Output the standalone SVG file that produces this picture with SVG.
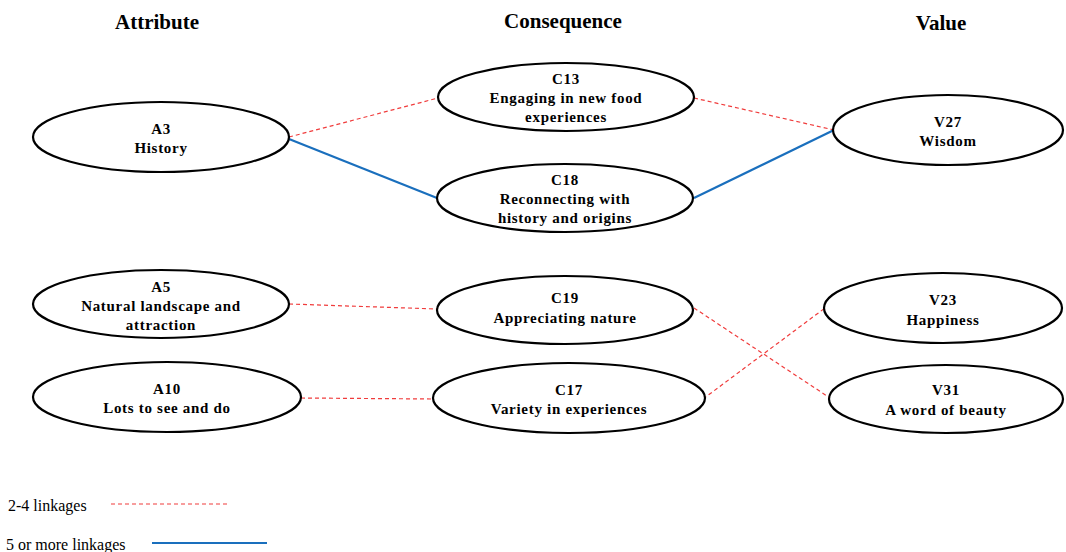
<svg xmlns="http://www.w3.org/2000/svg" width="1066" height="552" viewBox="0 0 1066 552">
  <style>
    .hdr { font-family: "Liberation Serif", "Times New Roman", serif; font-weight: bold; font-size: 21px; text-anchor: middle; fill: #000; }
    .node ellipse { fill: #fff; stroke: #000; stroke-width: 2.2; }
    .node text { font-family: "Liberation Serif", "Times New Roman", serif; font-weight: bold; font-size: 15px; letter-spacing: 0.7px; text-anchor: middle; fill: #000; }
    .weak { stroke: #f03c3c; stroke-width: 1.2; stroke-dasharray: 4 3; fill: none; }
    .strong { stroke: #1a6fbd; stroke-width: 2.2; fill: none; }
    .legend { font-family: "Liberation Serif", "Times New Roman", serif; font-size: 16px; fill: #000; }
  </style>
  <rect width="1066" height="552" fill="#fff"/>

  <!-- column headers -->
  <text class="hdr" x="157" y="29">Attribute</text>
  <text class="hdr" x="563" y="28">Consequence</text>
  <text class="hdr" x="941" y="30">Value</text>

  <!-- connectors -->
  <g id="connectors">
    <line class="weak" x1="289" y1="137" x2="438" y2="98"/>
    <line class="strong" x1="289" y1="139" x2="437" y2="198"/>
    <line class="weak" x1="694" y1="98" x2="834" y2="130"/>
    <line class="strong" x1="694" y1="198" x2="834" y2="130"/>
    <line class="weak" x1="289" y1="304" x2="437" y2="309"/>
    <line class="weak" x1="694" y1="308" x2="830" y2="398"/>
    <line class="weak" x1="301" y1="398" x2="433" y2="399"/>
    <line class="weak" x1="703" y1="399" x2="825" y2="308"/>
  </g>

  <!-- attributes -->
  <g id="A3" class="node">
    <ellipse cx="161" cy="137" rx="128" ry="35"/>
    <text x="161" y="134">A3</text>
    <text x="161" y="153">History</text>
  </g>
  <g id="A5" class="node">
    <ellipse cx="161" cy="304" rx="128" ry="34"/>
    <text x="161" y="292">A5</text>
    <text x="161" y="311">Natural landscape and</text>
    <text x="161" y="330">attraction</text>
  </g>
  <g id="A10" class="node">
    <ellipse cx="167" cy="397" rx="134" ry="35"/>
    <text x="167" y="394">A10</text>
    <text x="167" y="413">Lots to see and do</text>
  </g>

  <!-- consequences -->
  <g id="C13" class="node">
    <ellipse cx="566" cy="97" rx="128" ry="34"/>
    <text x="566" y="84">C13</text>
    <text x="566" y="103">Engaging in new food</text>
    <text x="566" y="122">experiences</text>
  </g>
  <g id="C18" class="node">
    <ellipse cx="565" cy="198" rx="128" ry="34"/>
    <text x="565" y="185">C18</text>
    <text x="565" y="204">Reconnecting with</text>
    <text x="565" y="223">history and origins</text>
  </g>
  <g id="C19" class="node">
    <ellipse cx="565" cy="310" rx="128" ry="34"/>
    <text x="565" y="303">C19</text>
    <text x="565" y="323">Appreciating nature</text>
  </g>
  <g id="C17" class="node">
    <ellipse cx="569" cy="398" rx="136" ry="35"/>
    <text x="569" y="395">C17</text>
    <text x="569" y="414">Variety in experiences</text>
  </g>

  <!-- values -->
  <g id="V27" class="node">
    <ellipse cx="948" cy="130" rx="115" ry="35"/>
    <text x="948" y="127">V27</text>
    <text x="948" y="146">Wisdom</text>
  </g>
  <g id="V23" class="node">
    <ellipse cx="943" cy="308" rx="119" ry="35"/>
    <text x="943" y="305">V23</text>
    <text x="943" y="325">Happiness</text>
  </g>
  <g id="V31" class="node">
    <ellipse cx="946" cy="399" rx="117" ry="34"/>
    <text x="946" y="395">V31</text>
    <text x="946" y="415">A word of beauty</text>
  </g>

  <!-- legend -->
  <g id="legend">
    <text class="legend" x="8" y="511">2-4 linkages</text>
    <line class="weak" x1="111" y1="504" x2="227" y2="504"/>
    <text class="legend" x="6" y="550">5 or more linkages</text>
    <line class="strong" x1="152" y1="543" x2="267" y2="543"/>
  </g>
</svg>
